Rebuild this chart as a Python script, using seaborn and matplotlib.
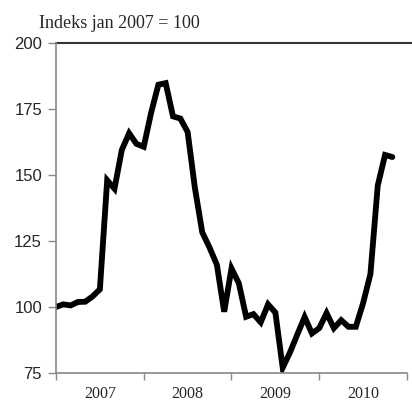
import pandas as pd
import matplotlib.pyplot as plt
import seaborn as sns

# monthly index, jan 2007 - nov 2010
months = list(range(47))
index_values = [100, 101, 100.6, 101.9, 102, 104, 106.7,
                148, 144.8, 159.5, 165.8, 161.8, 160.7, 173.5, 184.2, 184.8,
                172.2, 171.4, 166.3, 145, 128.3, 122.5, 116, 98.2,
                114.6, 109, 96.3, 97.3, 94.2, 101, 97.9,
                77, 82.8, 89.6, 96.2, 90, 92, 97.7, 92, 95,
                92.5, 92.5, 101.5, 112.5, 146, 157.6, 156.8]
year_labels = ["2007", "2008", "2009", "2010"]
y_ticks = [75, 100, 125, 150, 175, 200]

df = pd.DataFrame({"month": months, "index": index_values})

sns.set_style("ticks")
fig = plt.figure(figsize=(4.12, 4.01), dpi=100)
ax = fig.add_axes([56 / 412, 28 / 401, 351 / 412, 330 / 401])

sns.lineplot(data=df, x="month", y="index", ax=ax, color="black",
             linewidth=4.2, solid_joinstyle="miter")

ax.set_xlim(0, 48)
ax.set_ylim(75, 200)
ax.set_xlabel("")
ax.set_ylabel("")

# year ticks at boundaries, labels centred in between
ax.set_xticks([0, 12, 24, 36, 48])
ax.set_xticklabels([])
ax.set_xticks([6, 18, 30, 42], minor=True)
ax.set_xticklabels(year_labels, minor=True, fontfamily="Liberation Serif",
                   fontsize=11.5)
ax.tick_params(axis="x", which="major", direction="out", length=5,
               color="#888888", width=1)
ax.tick_params(axis="x", which="minor", length=0, pad=9)

ax.set_yticks(y_ticks)
ax.set_yticklabels([str(v) for v in y_ticks], fontfamily="Liberation Sans",
                   fontsize=12)
ax.tick_params(axis="y", direction="out", length=6, color="#888888",
               width=1, pad=4)

for side in ["left", "bottom"]:
    ax.spines[side].set_color("#888888")
    ax.spines[side].set_linewidth(1.2)
ax.spines["right"].set_visible(False)
ax.spines["top"].set_visible(False)
# top border runs on to the figure edge
ax.axhline(200, xmin=0, xmax=(412 - 56) / 351, color="#333333",
           linewidth=1.5, clip_on=False)

fig.text(39 / 412, 1 - 28 / 401, "Indeks jan 2007 = 100",
         fontfamily="Liberation Serif", fontsize=13, va="baseline",
         ha="left")

fig.savefig("out.png", dpi=100)
